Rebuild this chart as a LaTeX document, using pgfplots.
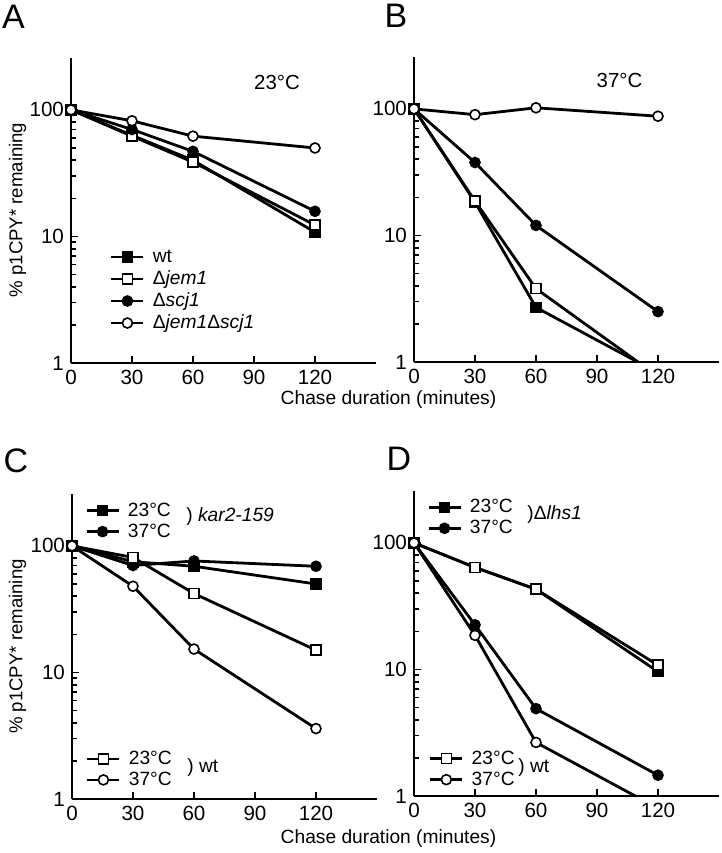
\documentclass[border=0pt]{standalone}
\usepackage{fontspec}
\setmainfont{Liberation Sans}
\usepackage{pgfplots}
\pgfplotsset{compat=1.18}

\tikzset{
  sFsq/.style={black, line width=1.4pt, mark=square*, mark size=2.5pt, mark options={solid, fill=black, draw=black, line width=0.8pt}},
  sOsq/.style={black, line width=1.4pt, mark=square*, mark size=2.5pt, mark options={solid, fill=white, draw=black, line width=0.8pt}},
  sFci/.style={black, line width=1.4pt, mark=*, mark size=2.5pt, mark options={solid, fill=black, draw=black, line width=0.8pt}},
  sOci/.style={black, line width=1.4pt, mark=*, mark size=2.5pt, mark options={solid, fill=white, draw=black, line width=0.8pt}},
}

\pgfplotsset{
  myPanel/.style={
    scale only axis, width=152.5pt, height=152.5pt,
    xmin=0, xmax=150, ymin=1, ymax=257,
    axis x line*=bottom, axis y line*=left,
    axis line style={line width=1.3pt, black},
    xtick={0,30,60,90,120}, ytick={1,10,100},
    log ticks with fixed point,
    tick align=inside, major tick length=3.5pt, minor tick length=2.5pt,
    major tick style={line width=0.9pt, black},
    minor tick style={line width=0.8pt, black},
    tick label style={font=\fontsize{10.3}{12}\selectfont},
    /pgf/number format/assume math mode=true,
    legend image code/.code={\draw[mark repeat=2,mark phase=2] plot coordinates {(0pt,0pt)(8pt,0pt)(16pt,0pt)};},
    legend cell align=left,
  },
  myLeg/.style={legend style={draw=none, fill=none, inner sep=0pt, outer sep=0pt,
      row sep=#1, column sep=4pt, anchor=north west,
      font=\fontsize{9.6}{11}\selectfont,
      nodes={inner sep=0pt, text height=7.2pt, text depth=1.8pt}}},
  myGhost/.style={scale only axis, width=152.5pt, height=152.5pt, hide axis,
    xmin=0, xmax=1, ymin=0, ymax=1,
    legend image code/.code={\draw[mark repeat=2,mark phase=2] plot coordinates {(0pt,0pt)(8pt,0pt)(16pt,0pt)};},
    legend cell align=left},
}

\begin{document}
\begin{tikzpicture}[font=\fontsize{9.6}{11}\selectfont]
\useasboundingbox (0,0) rectangle (361pt,-426.5pt);

% ---------------- Panel A ----------------
\begin{axis}[ymode=log, myPanel, at={(35.5pt,-181.5pt)}, anchor=south west,
  myLeg=2pt, legend style={at={(0.128,0.377)}}]
\addplot[sFsq] coordinates {(0,100) (30,63) (60,40) (120,10.8)};
\addlegendentry{wt}
\addplot[sOsq] coordinates {(0,100) (30,62) (60,38.7) (120,12.3)};
\addlegendentry{Δ\textit{jem1}}
\addplot[sFci] coordinates {(0,100) (30,70) (60,47) (120,15.8)};
\addlegendentry{Δ\textit{scj1}}
\addplot[sOci] coordinates {(0,100) (30,82) (60,62) (120,50)};
\addlegendentry{Δ\textit{jem1}Δ\textit{scj1}}
\end{axis}

% ---------------- Panel B ----------------
\begin{axis}[ymode=log, myPanel, at={(207pt,-181pt)}, anchor=south west]
\addplot[sFsq, mark indices={1,2,3}] coordinates {(0,100) (30,18.3) (60,2.7) (120,0.82)};
\addplot[sOsq, mark indices={1,2,3}] coordinates {(0,100) (30,18.7) (60,3.8) (120,0.77)};
\addplot[sFci] coordinates {(0,100) (30,37.7) (60,12) (120,2.5)};
\addplot[sOci] coordinates {(0,100) (30,90) (60,102) (120,87.5)};
\end{axis}

% ---------------- Panel C ----------------
\begin{axis}[ymode=log, myPanel, at={(36pt,-399.5pt)}, anchor=south west,
  myLeg=1.5pt, legend style={at={(0.043,0.975)}}]
\addplot[sFsq] coordinates {(0,100) (30,75) (60,69) (120,50)};
\addlegendentry{23°C}
\addplot[sFci] coordinates {(0,100) (30,70) (60,76) (120,69)};
\addlegendentry{37°C}
\addplot[sOsq] coordinates {(0,100) (30,81) (60,42) (120,15)};
\addplot[sOci] coordinates {(0,100) (30,48) (60,15.3) (120,3.6)};
\end{axis}
\begin{axis}[myGhost, at={(36pt,-399.5pt)}, anchor=south west,
  myLeg=1.5pt, legend style={at={(0.046,0.161)}}]
\addlegendimage{sOsq}\addlegendentry{23°C}
\addlegendimage{sOci}\addlegendentry{37°C}
\end{axis}

% ---------------- Panel D ----------------
\begin{axis}[ymode=log, myPanel, at={(207pt,-398pt)}, anchor=south west,
  myLeg=1.5pt, legend style={at={(0.043,0.976)}}]
\addplot[sFsq] coordinates {(0,100) (30,64) (60,43) (120,9.6)};
\addlegendentry{23°C}
\addplot[sFci] coordinates {(0,100) (30,22.5) (60,4.9) (120,1.46)};
\addlegendentry{37°C}
\addplot[sOsq] coordinates {(0,100) (30,64) (60,43) (120,10.8)};
\addplot[sOci, mark indices={1,2,3}] coordinates {(0,100) (30,18.6) (60,2.65) (120,0.8)};
\end{axis}
\begin{axis}[myGhost, at={(207pt,-398pt)}, anchor=south west,
  myLeg=1.5pt, legend style={at={(0.049,0.152)}}]
\addlegendimage{sOsq}\addlegendentry{23°C}
\addlegendimage{sOci}\addlegendentry{37°C}
\end{axis}

% ---------------- Texts ----------------
\node[font=\fontsize{17}{20}\selectfont, anchor=base] at (6.75pt,-14pt) {A};
\node[font=\fontsize{17}{20}\selectfont, anchor=base] at (198pt,-13.5pt) {B};
\node[font=\fontsize{17}{20}\selectfont, anchor=base] at (8pt,-236pt) {C};
\node[font=\fontsize{17}{20}\selectfont, anchor=base] at (199.5pt,-235pt) {D};

\node[font=\fontsize{10.2}{12}\selectfont] at (138.5pt,-41pt) {23°C};
\node[font=\fontsize{10.2}{12}\selectfont] at (309.75pt,-40pt) {37°C};

\node[anchor=west, inner sep=0pt] at (93pt,-258.5pt) {) \textit{kar2-159}};
\node[anchor=west, inner sep=0pt] at (93.5pt,-384pt) {) wt};
\node[anchor=west, inner sep=0pt] at (263.5pt,-257.5pt) {)Δ\textit{lhs1}};
\node[anchor=west, inner sep=0pt] at (259pt,-384pt) {) wt};

\node[rotate=90, font=\fontsize{9.3}{11}\selectfont] at (8.75pt,-105pt) {\% p1CPY* remaining};
\node[rotate=90, font=\fontsize{9.3}{11}\selectfont] at (8.75pt,-323.25pt) {\% p1CPY* remaining};
\node[font=\fontsize{9.6}{11}\selectfont] at (194.25pt,-200pt) {Chase duration (minutes)};
\node[font=\fontsize{9.6}{11}\selectfont] at (194.25pt,-419.5pt) {Chase duration (minutes)};
\end{tikzpicture}
\end{document}
